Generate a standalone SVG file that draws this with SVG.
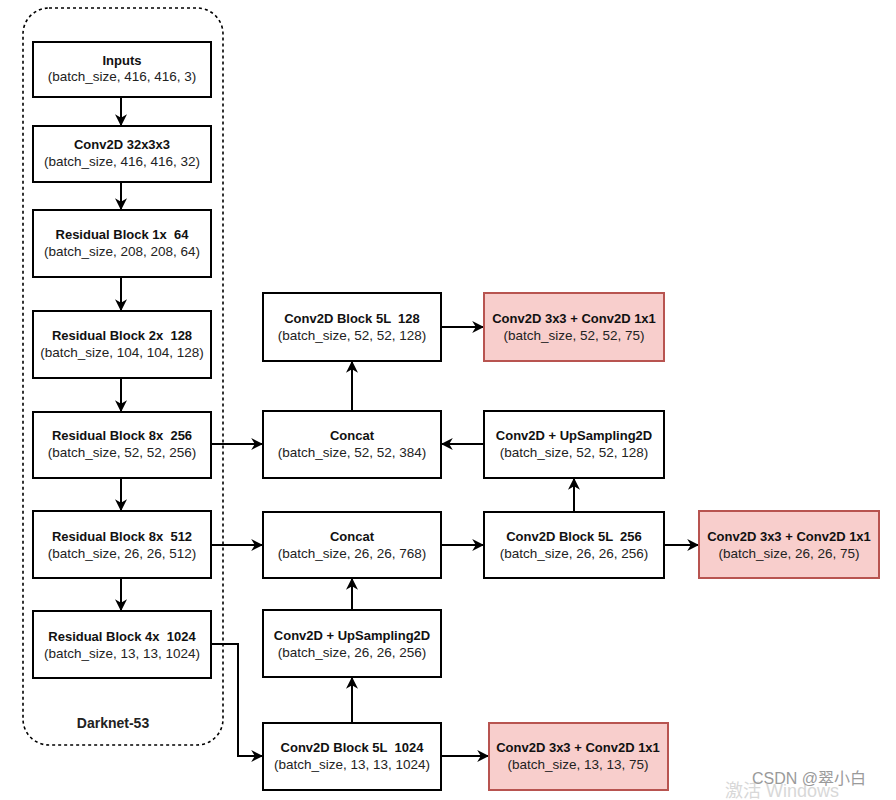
<svg xmlns="http://www.w3.org/2000/svg" width="896" height="800" viewBox="0 0 896 800">
<style>
.box{fill:#fff;stroke:#000;stroke-width:2}
.red{fill:#f8cecc;stroke:#b85450;stroke-width:2}
.t{font-family:"Liberation Sans",Arial,sans-serif;font-size:13px;font-weight:bold;text-anchor:middle;fill:#111;white-space:pre}
.s{font-family:"Liberation Sans",Arial,sans-serif;font-size:13.5px;text-anchor:middle;fill:#222}
.c{fill:none;stroke:#000;stroke-width:2;marker-end:url(#ah)}
</style>
<defs>
<marker id="ah" viewBox="0 0 10 10" refX="9" refY="5" markerWidth="6" markerHeight="6" orient="auto" markerUnits="strokeWidth">
<path d="M0,0 L10,5 L0,10 L3,5 Z" fill="#000"/>
</marker>
</defs>
<rect width="896" height="800" fill="#fff"/>
<g id="darknet">
<rect x="23" y="8" width="200" height="737" rx="26" ry="26" fill="none" stroke="#000" stroke-width="1.6" stroke-dasharray="3 3"/>
<text x="113" y="728" style="font-family:'Liberation Sans',Arial,sans-serif;font-size:14px;font-weight:bold;fill:#222" text-anchor="middle">Darknet-53</text>
</g>
<g id="connectors">
<line class="c" x1="121" y1="97" x2="121" y2="125"/>
<line class="c" x1="121" y1="182" x2="121" y2="209"/>
<line class="c" x1="121" y1="277" x2="121" y2="310"/>
<line class="c" x1="121" y1="378" x2="121" y2="411"/>
<line class="c" x1="121" y1="478" x2="121" y2="510"/>
<line class="c" x1="121" y1="578" x2="121" y2="610"/>
<line class="c" x1="211" y1="444" x2="262" y2="444"/>
<line class="c" x1="211" y1="545" x2="262" y2="545"/>
<polyline class="c" points="211,644 238,644 238,756 262,756"/>
<line class="c" x1="352" y1="723" x2="352" y2="678"/>
<line class="c" x1="352" y1="610" x2="352" y2="579"/>
<line class="c" x1="441" y1="545" x2="483" y2="545"/>
<line class="c" x1="574" y1="512" x2="574" y2="479"/>
<line class="c" x1="484" y1="444" x2="442" y2="444"/>
<line class="c" x1="352" y1="411" x2="352" y2="362"/>
<line class="c" x1="441" y1="327" x2="483" y2="327"/>
<line class="c" x1="664" y1="545" x2="698" y2="545"/>
<line class="c" x1="441" y1="756" x2="488" y2="756"/>
</g>
<g id="inputs"><rect class="box" x="33" y="42" width="178" height="55"/><text class="t" x="122" y="65">Inputs</text><text class="s" x="122" y="81">(batch_size, 416, 416, 3)</text></g>
<g id="conv2d32"><rect class="box" x="33" y="126" width="178" height="56"/><text class="t" x="122" y="149">Conv2D 32x3x3</text><text class="s" x="122" y="166">(batch_size, 416, 416, 32)</text></g>
<g id="res1"><rect class="box" x="33" y="210" width="178" height="67"/><text class="t" x="122" y="239">Residual Block 1x  64</text><text class="s" x="122" y="256">(batch_size, 208, 208, 64)</text></g>
<g id="res2"><rect class="box" x="33" y="311" width="178" height="67"/><text class="t" x="122" y="340">Residual Block 2x  128</text><text class="s" x="122" y="357">(batch_size, 104, 104, 128)</text></g>
<g id="res8a"><rect class="box" x="33" y="412" width="178" height="66"/><text class="t" x="122" y="440">Residual Block 8x  256</text><text class="s" x="122" y="457">(batch_size, 52, 52, 256)</text></g>
<g id="res8b"><rect class="box" x="33" y="511" width="178" height="67"/><text class="t" x="122" y="541">Residual Block 8x  512</text><text class="s" x="122" y="558">(batch_size, 26, 26, 512)</text></g>
<g id="res4"><rect class="box" x="33" y="611" width="178" height="67"/><text class="t" x="122" y="641">Residual Block 4x  1024</text><text class="s" x="122" y="658">(batch_size, 13, 13, 1024)</text></g>
<g id="block128"><rect class="box" x="263" y="293" width="178" height="68"/><text class="t" x="352" y="323">Conv2D Block 5L  128</text><text class="s" x="352" y="340">(batch_size, 52, 52, 128)</text></g>
<g id="concat52"><rect class="box" x="263" y="411" width="178" height="67"/><text class="t" x="352" y="440">Concat</text><text class="s" x="352" y="457">(batch_size, 52, 52, 384)</text></g>
<g id="concat26"><rect class="box" x="263" y="512" width="178" height="66"/><text class="t" x="352" y="541">Concat</text><text class="s" x="352" y="558">(batch_size, 26, 26, 768)</text></g>
<g id="up26"><rect class="box" x="263" y="610" width="178" height="67"/><text class="t" x="352" y="640">Conv2D + UpSampling2D</text><text class="s" x="352" y="657">(batch_size, 26, 26, 256)</text></g>
<g id="block1024"><rect class="box" x="263" y="723" width="178" height="67"/><text class="t" x="352" y="752">Conv2D Block 5L  1024</text><text class="s" x="352" y="769">(batch_size, 13, 13, 1024)</text></g>
<g id="out52"><rect class="red" x="484" y="293" width="180" height="68"/><text class="t" x="574" y="323">Conv2D 3x3 + Conv2D 1x1</text><text class="s" x="574" y="340">(batch_size, 52, 52, 75)</text></g>
<g id="up52"><rect class="box" x="484" y="411" width="180" height="67"/><text class="t" x="574" y="440">Conv2D + UpSampling2D</text><text class="s" x="574" y="457">(batch_size, 52, 52, 128)</text></g>
<g id="block256"><rect class="box" x="484" y="512" width="180" height="66"/><text class="t" x="574" y="541">Conv2D Block 5L  256</text><text class="s" x="574" y="558">(batch_size, 26, 26, 256)</text></g>
<g id="out26"><rect class="red" x="699" y="511" width="180" height="67"/><text class="t" x="789" y="541">Conv2D 3x3 + Conv2D 1x1</text><text class="s" x="789" y="558">(batch_size, 26, 26, 75)</text></g>
<g id="out13"><rect class="red" x="489" y="723" width="179" height="67"/><text class="t" x="578" y="752">Conv2D 3x3 + Conv2D 1x1</text><text class="s" x="578" y="769">(batch_size, 13, 13, 75)</text></g>
<g id="watermark">
<text x="725" y="797" style="font-family:'Liberation Sans','Noto Sans CJK SC',sans-serif;font-size:18px;fill:#d8d8d8">激活 Windows</text>
<text x="752" y="784" style="font-family:'Liberation Sans','Noto Sans CJK SC',sans-serif;font-size:16px;fill:#9a9a9a">CSDN @翠小白</text>
</g>
</svg>
